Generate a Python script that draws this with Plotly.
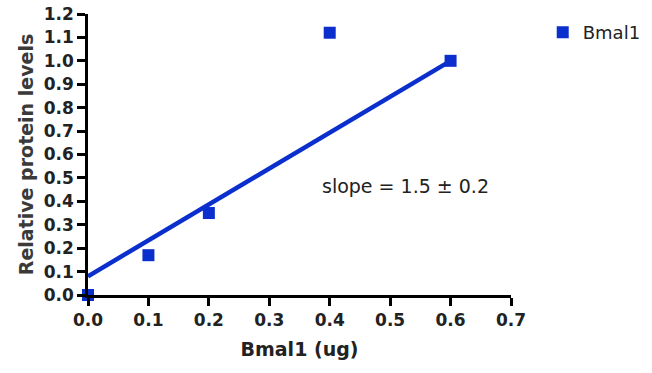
import plotly.graph_objects as go

# Data
bmal1_ug = [0.0, 0.1, 0.2, 0.4, 0.6]
rel_protein = [0.0, 0.17, 0.35, 1.12, 1.0]
fit_x = [0.0, 0.6]
fit_y = [0.08, 1.0]
x_ticks = [0.0, 0.1, 0.2, 0.3, 0.4, 0.5, 0.6, 0.7]
y_ticks = [round(0.1 * i, 1) for i in range(13)]

blue = "#0a2fcc"
FONT = "DejaVu Sans"
fig = go.Figure()
fig.add_trace(go.Scatter(x=fit_x, y=fit_y, mode="lines",
                         line=dict(color=blue, width=4.5), showlegend=False,
                         cliponaxis=False))
fig.add_trace(go.Scatter(x=bmal1_ug, y=rel_protein, mode="markers", name="Bmal1",
                         marker=dict(symbol="square", size=12, color=blue),
                         cliponaxis=False))

axis_font = dict(family=FONT, size=17, color="#222", weight="bold")
fig.update_layout(
    width=652, height=373,
    margin=dict(l=88, r=141, t=14, b=78, autoexpand=False),
    plot_bgcolor="white", paper_bgcolor="white",
    font=dict(family=FONT, color="#222"),
    legend=dict(x=1.075, y=1.0, xanchor="left", yanchor="top",
                font=dict(size=18, color="#222"), bgcolor="rgba(0,0,0,0)"),
    annotations=[dict(x=0.525, y=0.465, xref="x", yref="y", text="slope = 1.5 ± 0.2",
                      showarrow=False, font=dict(size=19, color="#222"))],
)
fig.update_xaxes(range=[0, 0.7], tickvals=x_ticks, ticktext=[f"{v:.1f}" for v in x_ticks],
                 showline=True, linecolor="black", linewidth=2.5, ticks="outside",
                 tickcolor="black", tickwidth=2.5, ticklen=8, showgrid=False, zeroline=False,
                 tickfont=axis_font, automargin=False,
                 title=dict(text="Bmal1 (ug)", font=dict(family=FONT, size=19, weight="bold", color="#222"),
                            standoff=14))
fig.update_yaxes(range=[0, 1.2], tickvals=y_ticks, ticktext=[f"{v:.1f}" for v in y_ticks],
                 showline=True, linecolor="black", linewidth=2.5, ticks="outside",
                 tickcolor="black", tickwidth=2.5, ticklen=8, showgrid=False, zeroline=False,
                 tickfont=axis_font, automargin=False,
                 title=dict(text="Relative protein levels", font=dict(family=FONT, size=19, weight="bold", color="#3a3a3a"),
                            standoff=6))
fig.write_html("out.html")
